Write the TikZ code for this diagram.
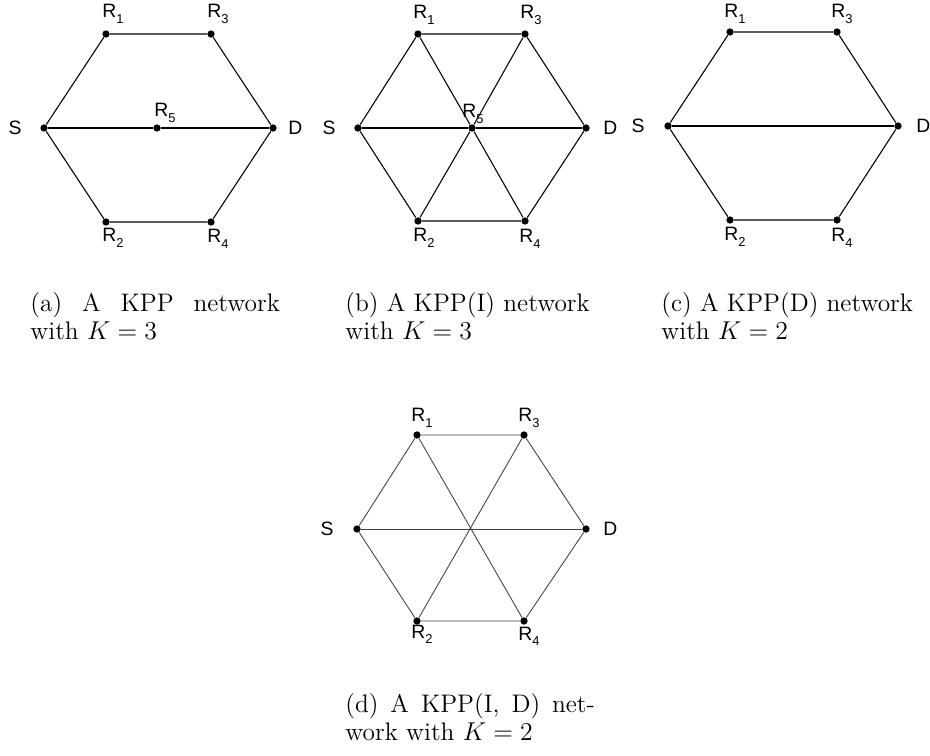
\documentclass[tikz,border=0pt]{standalone}
\usepackage{fontspec}
\newfontfamily\labelfont{Liberation Sans}
\newcommand\rsub[1]{R\raisebox{-2.6pt}{\fontsize{6}{7}\selectfont #1}}
\newlength\capw
\setlength\capw{116pt}
\begin{document}
\begin{tikzpicture}[x=0.465pt, y=-0.465pt,
  dot/.style={circle, fill=black, inner sep=0pt, minimum size=3.4pt},
  edge/.style={line width=0.5pt, black},
  thinedge/.style={line width=0.4pt, black!75},
  lab/.style={inner sep=0pt, font=\labelfont\fontsize{9}{10}\selectfont},
  capline/.style={inner sep=0pt, anchor=base west, font=\fontsize{11.8}{13}\selectfont}]
\useasboundingbox (0,0) rectangle (930,756);

% ---------- (a) KPP network, K = 3 ----------
\node[dot] (aS)  at (44,128)  {};
\node[dot] (aR1) at (106,34)  {};
\node[dot] (aR3) at (211,34)  {};
\node[dot] (aD)  at (273,128) {};
\node[dot] (aR2) at (106,222) {};
\node[dot] (aR4) at (211,222) {};
\node[dot] (aR5) at (157,128) {};
\draw[edge] (aS) -- (aR1) -- (aR3) -- (aD) -- (aR4) -- (aR2) -- (aS);
\draw[edge] (aS) -- (aR5) -- (aD);
\node[lab, anchor=east] (aLS) at (22,128) {S};
\node[lab, anchor=west] (aLD) at (288,128) {D};
\node[lab, anchor=base west] (aL1) at (102,18)  {\rsub{1}};
\node[lab, anchor=base west] (aL3) at (207,18)  {\rsub{3}};
\node[lab, anchor=base west] (aL5) at (154,117) {\rsub{5}};
\node[lab, anchor=base west] (aL2) at (102,242) {\rsub{2}};
\node[lab, anchor=base west] (aL4) at (207,243) {\rsub{4}};

% ---------- (b) KPP(I) network, K = 3 ----------
\node[dot] (bS)  at (358,128) {};
\node[dot] (bR1) at (418,34)  {};
\node[dot] (bR3) at (525,34)  {};
\node[dot] (bD)  at (586,128) {};
\node[dot] (bR2) at (418,221) {};
\node[dot] (bR4) at (525,221) {};
\node[dot] (bR5) at (472,128) {};
\draw[edge] (bS) -- (bR1) -- (bR3) -- (bD) -- (bR4) -- (bR2) -- (bS);
\draw[edge] (bS) -- (bR5) -- (bD);
\draw[edge] (bR1) -- (bR5) -- (bR4);
\draw[edge] (bR3) -- (bR5) -- (bR2);
\node[lab, anchor=east] (bLS) at (336,128) {S};
\node[lab, anchor=west] (bLD) at (603,128) {D};
\node[lab, anchor=base west] (bL1) at (413,19)  {\rsub{1}};
\node[lab, anchor=base west] (bL3) at (520,19)  {\rsub{3}};
\node[lab, anchor=base west] (bL5) at (462,118) {\rsub{5}};
\node[lab, anchor=base west] (bL2) at (413,242) {\rsub{2}};
\node[lab, anchor=base west] (bL4) at (519,243) {\rsub{4}};

% ---------- (c) KPP(D) network, K = 2 ----------
\node[dot] (cS)  at (668,126) {};
\node[dot] (cR1) at (730,32)  {};
\node[dot] (cR3) at (837,32)  {};
\node[dot] (cD)  at (898,126) {};
\node[dot] (cR2) at (730,220) {};
\node[dot] (cR4) at (837,220) {};
\draw[edge] (cS) -- (cR1) -- (cR3) -- (cD) -- (cR4) -- (cR2) -- (cS);
\draw[edge] (cS) -- (cD);
\node[lab, anchor=east] (cLS) at (645,126) {S};
\node[lab, anchor=west] (cLD) at (916,126) {D};
\node[lab, anchor=base west] (cL1) at (724,18)  {\rsub{1}};
\node[lab, anchor=base west] (cL3) at (831,18)  {\rsub{3}};
\node[lab, anchor=base west] (cL2) at (724,241) {\rsub{2}};
\node[lab, anchor=base west] (cL4) at (831,242) {\rsub{4}};

% ---------- (d) KPP(I, D) network, K = 2 ----------
\node[dot] (dS)  at (357,529) {};
\node[dot] (dR1) at (417,435) {};
\node[dot] (dR3) at (524,435) {};
\node[dot] (dD)  at (586,529) {};
\node[dot] (dR2) at (417,621) {};
\node[dot] (dR4) at (524,621) {};
\draw[thinedge] (dS) -- (dR1) -- (dR3) -- (dD) -- (dR4) -- (dR2) -- (dS);
\draw[thinedge] (dS) -- (dD);
\draw[thinedge] (dR1) -- (dR4);
\draw[thinedge] (dR3) -- (dR2);
\node[lab, anchor=east] (dLS) at (334,529) {S};
\node[lab, anchor=west] (dLD) at (603,529) {D};
\node[lab, anchor=base west] (dL1) at (411,422) {\rsub{1}};
\node[lab, anchor=base west] (dL3) at (518,422) {\rsub{3}};
\node[lab, anchor=base west] (dL2) at (411,638) {\rsub{2}};
\node[lab, anchor=base west] (dL4) at (518,640) {\rsub{4}};

% ---------- captions ----------
\node[capline] (capA1) at (30,312)  {\makebox[\capw][s]{(a) A KPP network}};
\node[capline] (capA2) at (30,340)  {with $K=3$};
\node[capline] (capB1) at (345,312) {(b) A KPP(I) network};
\node[capline] (capB2) at (345,340) {with $K=3$};
\node[capline] (capC1) at (661,312) {(c) A KPP(D) network};
\node[capline] (capC2) at (661,340) {with $K=2$};
\node[capline] (capD1) at (345,712) {\makebox[\capw][s]{(d) A KPP(I, D) net-}};
\node[capline] (capD2) at (345,740) {work with $K=2$};
\end{tikzpicture}
\end{document}
